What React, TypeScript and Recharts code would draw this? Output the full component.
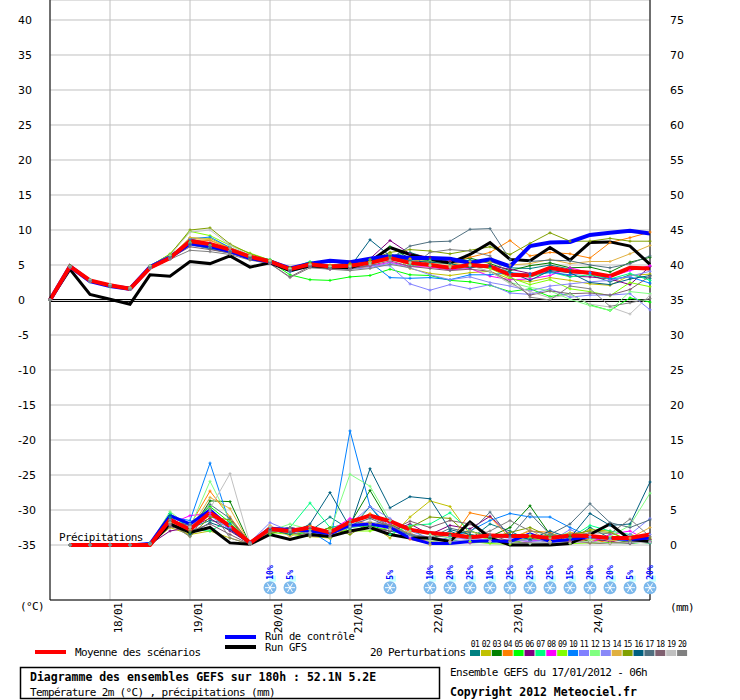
import React from "react";
import {
  LineChart,
  Line,
  XAxis,
  YAxis,
  CartesianGrid,
  ReferenceLine,
  ReferenceDot,
} from "recharts";

// time steps are 6h apart, starting 17/01 06h (index 0) up to +180h (index 30)
const DAY_TICKS = [3, 7, 11, 15, 19, 23, 27];
const DAY_LABELS = ["18/01", "19/01", "20/01", "21/01", "22/01", "23/01", "24/01"];
const TEMP_TICKS = [-35, -30, -25, -20, -15, -10, -5, 0, 5, 10, 15, 20, 25, 30, 35, 40];
const MM_TICKS = [0, 5, 10, 15, 20, 25, 30, 35, 40, 45, 50, 55, 60, 65, 70, 75];

// temperature 2m (°C)
const MEAN_T = [0, 4.8, 2.8, 2.1, 1.6, 4.6, 6.0, 8.4, 8.0, 7.2, 6.2, 5.5, 4.4, 5.1, 4.8, 4.9, 5.3, 6.0, 5.3, 5.0, 4.6, 5.0, 4.8, 3.6, 3.5, 4.6, 4.1, 3.9, 3.4, 4.6, 4.5];
const CTRL_T = [0, 4.8, 2.7, 2.0, 1.6, 4.7, 6.1, 8.1, 7.7, 7.0, 6.0, 5.5, 4.5, 5.2, 5.6, 5.4, 5.9, 6.3, 6.0, 6.0, 5.9, 5.3, 5.8, 4.8, 7.7, 8.2, 8.3, 9.3, 9.6, 9.9, 9.5];
const GFS_T = [0, 4.4, 0.8, 0.1, -0.6, 3.6, 3.4, 5.5, 5.2, 6.3, 4.7, 5.3, 4.2, 4.9, 4.7, 4.6, 5.5, 7.5, 6.5, 5.8, 5.3, 6.5, 8.2, 5.8, 5.6, 7.5, 5.7, 8.2, 8.3, 7.7, 5.1];

const PERT_T = [
  [0, 4.8, 2.9, 2.2, 1.7, 4.9, 6.2, 8.0, 7.3, 6.7, 6.0, 5.6, 4.6, 5.0, 4.7, 4.4, 5.3, 6.3, 6.8, 5.9, 5.2, 5.7, 5.5, 4.6, 4.5, 5.0, 4.4, 3.6, 2.6, 3.6, 3.1], // 01
  [0, 4.7, 2.7, 2.0, 1.5, 4.7, 6.1, 8.9, 8.8, 7.5, 6.4, 5.6, 4.2, 5.0, 4.5, 4.4, 4.8, 6.8, 4.5, 3.8, 3.5, 3.9, 4.1, 3.0, 2.6, 3.2, 2.8, 2.3, 2.1, 3.5, 3.7], // 02
  [0, 4.9, 2.8, 2.1, 1.6, 4.5, 6.3, 8.1, 7.6, 7.1, 5.9, 5.3, 4.5, 5.3, 4.6, 4.7, 5.6, 7.6, 5.9, 5.6, 5.4, 6.0, 5.2, 4.2, 4.9, 5.3, 4.6, 4.7, 4.0, 5.4, 6.1], // 03
  [0, 4.8, 2.8, 2.1, 1.8, 4.8, 6.0, 8.6, 8.5, 7.4, 6.3, 5.4, 4.3, 5.2, 5.0, 5.2, 5.5, 6.1, 5.9, 5.2, 5.5, 6.1, 6.8, 8.5, 6.3, 6.8, 6.6, 6.0, 8.2, 8.9, 9.7], // 04
  [0, 4.7, 2.6, 1.9, 1.5, 4.6, 6.4, 8.3, 7.9, 6.9, 5.8, 5.5, 3.6, 2.9, 2.8, 3.3, 3.5, 4.4, 3.6, 3.5, 2.8, 2.6, 2.1, 1.2, 1.6, 0.5, 0.9, -0.7, -1.5, 0.3, -0.3], // 05
  [0, 4.8, 2.8, 2.0, 1.6, 4.7, 6.0, 8.7, 8.1, 7.3, 6.2, 5.4, 4.4, 4.8, 4.9, 5.4, 5.9, 8.5, 6.6, 6.1, 5.5, 5.3, 4.9, 4.4, 3.8, 4.1, 3.4, 3.3, 3.0, 2.2, 4.8], // 06
  [0, 4.9, 2.9, 2.2, 1.7, 4.9, 6.5, 8.0, 7.4, 7.0, 6.2, 5.8, 4.5, 5.5, 4.8, 4.9, 5.8, 6.2, 5.0, 4.9, 4.3, 4.7, 4.6, 3.9, 3.3, 4.0, 3.3, 3.6, 3.0, 3.8, 2.8], // 07
  [0, 4.7, 2.7, 2.1, 1.6, 4.6, 6.1, 8.0, 7.7, 7.1, 5.9, 5.3, 4.3, 4.9, 4.4, 4.6, 4.8, 5.4, 4.8, 4.7, 4.3, 4.5, 3.4, 2.9, 3.0, 3.5, 4.6, 3.9, 3.3, 4.2, 4.9], // 08
  [0, 4.8, 2.8, 2.1, 1.6, 4.8, 6.6, 9.8, 9.2, 7.8, 6.7, 5.7, 4.6, 5.0, 4.6, 4.7, 5.2, 6.5, 5.6, 4.9, 4.8, 5.1, 4.5, 3.2, 2.2, 2.9, 1.6, 1.2, 0.6, 2.5, 1.9], // 09
  [0, 4.8, 2.9, 2.2, 1.6, 4.7, 6.2, 8.7, 9.0, 7.5, 6.0, 5.4, 4.0, 4.8, 4.5, 4.7, 5.4, 3.2, 3.1, 3.2, 2.9, 3.6, 3.6, 3.9, 3.7, 3.9, 3.6, 3.9, 3.0, 3.3, 2.4], // 10
  [0, 4.7, 2.6, 2.0, 1.5, 4.5, 5.9, 7.8, 7.4, 6.8, 5.9, 5.3, 4.3, 4.7, 4.6, 4.5, 4.9, 4.9, 2.3, 1.4, 2.2, 1.6, 2.2, 1.0, 0.8, 1.6, 0.4, 0.7, 0.7, 0.9, -1.4], // 11
  [0, 4.8, 2.8, 2.1, 1.7, 4.8, 6.3, 8.2, 7.8, 7.0, 6.4, 5.6, 4.4, 5.1, 4.9, 5.0, 5.4, 6.6, 5.3, 5.6, 5.1, 5.0, 4.0, 2.5, 1.8, 1.3, 0.1, -0.8, -1.5, 1.2, 0.9], // 12
  [0, 4.8, 2.7, 2.1, 1.6, 4.6, 6.0, 8.1, 7.5, 6.9, 6.0, 5.2, 4.1, 4.9, 4.4, 4.4, 4.6, 5.3, 4.6, 3.6, 2.9, 3.3, 2.5, 2.0, 1.3, 2.0, 2.3, 2.6, 2.8, 3.4, 4.1], // 13
  [0, 4.8, 2.8, 2.1, 1.6, 4.7, 6.1, 8.9, 8.6, 7.4, 6.3, 5.6, 4.4, 5.0, 4.8, 5.0, 5.5, 6.4, 5.8, 5.4, 5.1, 5.5, 5.4, 5.0, 5.2, 5.8, 5.2, 5.5, 5.5, 6.6, 7.8], // 14
  [0, 4.9, 2.9, 2.2, 1.7, 4.9, 6.5, 10.0, 10.3, 8.0, 6.6, 5.7, 4.6, 5.3, 4.9, 5.2, 5.7, 6.8, 7.2, 7.0, 6.6, 7.1, 7.6, 6.5, 8.1, 9.6, 8.4, 8.4, 8.8, 8.4, 8.4], // 15
  [0, 4.8, 2.8, 2.1, 1.6, 4.8, 6.2, 7.9, 7.4, 6.9, 6.0, 5.3, 4.3, 5.0, 4.6, 4.7, 8.6, 6.3, 5.6, 5.4, 5.2, 4.6, 4.8, 4.0, 2.8, 4.2, 3.9, 2.5, 2.2, 3.0, 3.5], // 16
  [0, 4.8, 2.8, 2.1, 1.6, 4.7, 6.1, 8.1, 7.7, 6.9, 6.0, 5.4, 4.1, 4.9, 4.5, 4.6, 5.0, 5.9, 7.7, 8.3, 8.4, 10.1, 10.2, 5.8, 5.5, 5.7, 5.6, 5.0, 4.6, 5.2, 6.3], // 17
  [0, 4.8, 2.7, 2.0, 1.6, 4.6, 6.0, 7.6, 7.2, 6.7, 5.8, 5.2, 3.3, 4.8, 4.4, 4.5, 4.9, 5.6, 4.8, 4.5, 4.2, 4.4, 4.1, 2.6, 0.7, 1.3, 0.9, 1.0, 0.7, 1.5, 3.4], // 18
  [0, 4.8, 2.9, 2.2, 1.7, 4.9, 6.4, 9.7, 10.0, 7.8, 6.4, 5.6, 4.5, 5.1, 4.8, 4.8, 5.1, 5.7, 5.4, 5.0, 4.7, 4.9, 4.1, 2.3, 1.2, 0.3, 0.8, -0.6, -1.0, -2.0, 0.7], // 19
  [0, 4.7, 2.7, 2.0, 1.5, 4.5, 5.8, 7.1, 6.9, 6.5, 5.7, 5.2, 3.2, 4.6, 4.4, 4.2, 4.5, 5.1, 4.6, 6.8, 7.2, 7.0, 6.3, 3.5, 0.4, 0.0, 2.0, 1.6, -0.9, -0.4, 0.2], // 20
];

// precipitations (mm), no value at the first step
const MEAN_P = [null, 0, 0, 0, 0, 0, 3.6, 2.2, 4.6, 2.7, 0.3, 2.3, 2.0, 2.5, 1.8, 3.3, 4.2, 3.4, 2.2, 1.7, 1.5, 1.1, 1.35, 1.3, 1.3, 1.0, 1.35, 1.3, 1.0, 1.0, 1.5];
const CTRL_P = [null, 0, 0, 0, 0, 0.2, 4.2, 3.0, 5.0, 2.5, 0.3, 2.4, 2.2, 2.0, 1.6, 2.8, 3.0, 2.5, 1.0, 0.2, 0.2, 0.5, 0.6, 0.5, 1.6, 0.5, 0.8, 1.2, 1.0, 0.8, 1.0];
const GFS_P = [null, 0, 0, 0, 0, 0, 3.0, 1.8, 2.5, 0.3, 0.1, 1.5, 0.8, 1.5, 1.2, 2.0, 2.5, 1.5, 1.0, 1.0, 0.5, 3.3, 1.0, 0.0, 0.0, 0.0, 0.2, 1.5, 3.0, 0.8, 0.5];

const PERT_P = [
  [null, 0, 0, 0, 0, 0.2, 4.5, 2.4, 3.5, 3.0, 0.2, 2.0, 2.5, 2.0, 4.0, 2.2, 5.5, 2.0, 1.5, 0.8, 2.0, 0.8, 3.0, 2.0, 0.6, 1.5, 0.5, 2.5, 1.0, 0.4, 0.5], // 01
  [null, 0, 0, 0, 0, 0.1, 2.5, 1.5, 2.0, 1.0, 0.1, 2.2, 1.8, 1.2, 1.0, 3.5, 3.0, 1.0, 4.0, 6.3, 5.5, 1.5, 0.8, 0.5, 1.0, 0.3, 1.0, 2.2, 2.0, 0.5, 0.6], // 02
  [null, 0, 0, 0, 0, 0.2, 3.8, 1.8, 6.3, 6.2, 0.1, 1.8, 2.2, 1.5, 2.5, 3.0, 7.8, 3.0, 1.5, 1.0, 1.5, 2.0, 1.2, 2.5, 5.6, 1.5, 1.2, 0.5, 0.8, 0.4, 0.3], // 03
  [null, 0, 0, 0, 0, 0.1, 3.5, 2.8, 7.7, 4.0, 0.3, 2.5, 2.0, 2.8, 1.5, 3.0, 4.5, 2.5, 0.8, 0.2, 0.5, 4.6, 4.0, 1.0, 2.0, 1.8, 0.5, 0.8, 0.3, 1.5, 0.8], // 04
  [null, 0, 0, 0, 0, 0.3, 4.0, 3.0, 5.5, 3.2, 0.1, 2.2, 1.5, 1.8, 1.0, 2.5, 2.8, 2.0, 2.5, 0.5, 0.8, 0.3, 0.4, 0.5, 0.2, 0.3, 0.5, 0.4, 0.3, 0.2, 0.5], // 05
  [null, 0, 0, 0, 0, 0.1, 2.0, 2.5, 3.8, 2.0, 0.2, 2.0, 2.5, 2.0, 1.2, 2.0, 2.5, 2.0, 3.0, 1.5, 2.8, 2.3, 4.1, 1.5, 0.8, 0.5, 0.3, 1.0, 0.5, 0.2, 0.8], // 06
  [null, 0, 0, 0, 0, 0.2, 4.5, 2.2, 2.0, 3.5, 0.1, 1.5, 2.5, 6.0, 2.5, 3.0, 2.5, 1.5, 2.8, 3.0, 4.6, 2.0, 1.0, 0.5, 0.8, 1.5, 1.0, 2.8, 2.0, 1.5, 0.6], // 07
  [null, 0, 0, 0, 0, 0.2, 3.0, 4.2, 4.5, 2.5, 0.1, 2.5, 2.3, 2.5, 2.0, 3.8, 3.0, 3.0, 1.0, 0.5, 0.5, 0.3, 0.5, 0.8, 0.5, 1.0, 0.5, 0.3, 1.5, 2.0, 0.5], // 08
  [null, 0, 0, 0, 0, 0.1, 3.2, 2.0, 5.0, 2.8, 0.2, 1.8, 1.5, 1.2, 2.2, 2.0, 2.0, 2.5, 1.5, 0.5, 0.3, 0.5, 0.2, 0.1, 1.0, 0.5, 0.2, 0.3, 0.2, 0.5, 0.3], // 09
  [null, 0, 0, 0, 0, 0.3, 4.0, 3.5, 11.7, 3.0, 0.3, 2.5, 1.8, 2.0, 0.2, 16.3, 5.5, 2.5, 1.5, 0.1, 1.2, 2.0, 3.5, 4.5, 4.0, 4.0, 2.5, 1.2, 1.0, 0.5, 0.3], // 10
  [null, 0, 0, 0, 0, 0.2, 2.8, 3.0, 4.2, 2.2, 0.4, 3.2, 2.0, 1.8, 1.5, 2.5, 3.0, 3.5, 2.0, 1.0, 0.5, 0.8, 1.2, 1.0, 0.8, 0.5, 2.2, 1.0, 0.8, 1.5, 3.8], // 11
  [null, 0, 0, 0, 0, 0.2, 4.8, 2.5, 9.1, 3.5, 0.2, 2.0, 3.0, 2.2, 2.0, 10.1, 8.4, 3.5, 2.0, 1.5, 1.0, 1.5, 0.8, 0.5, 1.5, 1.0, 1.8, 0.8, 1.2, 2.8, 7.4], // 12
  [null, 0, 0, 0, 0, 0.2, 3.6, 2.6, 4.8, 2.4, 0.2, 2.2, 2.0, 1.6, 1.4, 3.0, 5.5, 3.8, 1.6, 1.0, 0.8, 1.0, 0.6, 0.8, 0.5, 0.4, 1.6, 1.2, 0.8, 0.6, 1.5], // 13
  [null, 0, 0, 0, 0, 0.1, 3.0, 2.2, 6.8, 5.2, 0.1, 2.8, 1.2, 2.6, 1.0, 2.8, 3.3, 2.4, 1.8, 0.0, 0.6, 2.0, 1.0, 0.6, 2.2, 0.5, 1.8, 1.5, 0.6, 1.0, 2.5], // 14
  [null, 0, 0, 0, 0, 0.1, 3.3, 1.2, 4.0, 3.6, 0.2, 1.6, 2.4, 1.4, 2.5, 1.5, 3.2, 2.8, 2.5, 4.0, 3.8, 1.2, 1.0, 1.8, 2.5, 1.2, 1.5, 2.0, 1.8, 0.6, 1.0], // 15
  [null, 0, 0, 0, 0, 0.2, 4.2, 1.5, 3.2, 2.2, 0.1, 2.2, 1.5, 3.0, 7.5, 2.5, 10.9, 5.3, 6.9, 6.6, 2.2, 1.5, 1.0, 1.5, 0.8, 2.0, 1.0, 4.5, 2.8, 3.0, 9.0], // 16
  [null, 0, 0, 0, 0, 0.2, 3.4, 2.8, 5.8, 3.8, 0.3, 2.5, 2.0, 2.4, 1.8, 2.8, 3.8, 2.6, 1.5, 1.0, 2.4, 1.8, 4.7, 1.2, 4.5, 1.5, 3.0, 5.9, 3.2, 2.5, 3.6], // 17
  [null, 0, 0, 0, 0, 0.1, 2.6, 2.0, 3.0, 1.5, 0.1, 2.0, 1.8, 1.2, 1.5, 1.8, 2.5, 2.0, 3.4, 2.5, 3.5, 3.0, 1.5, 0.5, 0.3, 0.2, 0.6, 0.3, 0.2, 0.5, 0.4], // 18
  [null, 0, 0, 0, 0, 0.2, 3.2, 2.6, 5.2, 10.2, 0.2, 2.6, 2.2, 1.8, 2.0, 2.6, 3.4, 2.2, 1.2, 0.6, 0.4, 0.8, 0.5, 0.3, 0.2, 0.4, 0.3, 0.5, 0.2, 0.3, 0.4], // 19
  [null, 0, 0, 0, 0, 0.2, 3.0, 1.2, 5.2, 1.0, 0.1, 1.8, 2.5, 1.4, 1.2, 3.5, 4.0, 2.8, 1.5, 1.0, 1.4, 1.0, 2.0, 3.5, 2.0, 1.5, 1.0, 1.8, 1.6, 3.7, 1.2], // 20
];

const PERT_COLORS = [
  "#008080", "#c0c000", "#008000", "#ff8000", "#00ff00",
  "#800080", "#00ff80", "#ff00ff", "#80ff00", "#0080ff",
  "#8080ff", "#80ff80", "#8888f8", "#e0b040", "#80a000",
  "#006080", "#507080", "#806070", "#c0c0c0", "#808080",
];

// snow probability (%) at the given steps
const SNOW_STEPS = [11, 12, 17, 19, 20, 21, 22, 23, 24, 25, 26, 27, 28, 29, 30];
const SNOW_PCT = [10, 5, 5, 10, 20, 25, 10, 25, 25, 25, 15, 20, 20, 5, 20];
const SNOW_ROW = -41.1; // level (°C axis) where the snow icons sit

const MONO = '"DejaVu Sans Mono", "Liberation Mono", monospace';
const SANS = '"DejaVu Sans", Verdana, sans-serif';

const rows = MEAN_T.map((_, i) => {
  const row: Record<string, number | null> = {
    t: i,
    mT: MEAN_T[i],
    cT: CTRL_T[i],
    gT: GFS_T[i],
    mP: MEAN_P[i],
    cP: CTRL_P[i],
    gP: GFS_P[i],
  };
  PERT_T.forEach((s, k) => (row[`t${k}`] = s[i]));
  PERT_P.forEach((s, k) => (row[`p${k}`] = s[i]));
  return row;
});

const plusDot = (color: string) => (props: any) => {
  const { cx, cy, index, dataKey } = props;
  const key = `${dataKey}-${index}`;
  if (cx == null || cy == null) return <g key={key} />;
  return (
    <path
      key={key}
      d={`M${cx - 1.5},${cy}h3M${cx},${cy - 1.5}v3`}
      stroke={color}
      strokeWidth={1}
      fill="none"
    />
  );
};

const LeftTick = (props: any) => (
  <text x={18} y={props.y + 4} fontSize={11} fontFamily={SANS} fill="#000">
    {props.payload.value}
  </text>
);

const RightTick = (props: any) => (
  <text x={670} y={props.y + 4} fontSize={11} fontFamily={SANS} fill="#000">
    {props.payload.value}
  </text>
);

const DayTick = (props: any) => {
  const idx = DAY_TICKS.indexOf(props.payload.value);
  return (
    <text
      transform={`translate(${props.x + 12},603) rotate(-90)`}
      textAnchor="end"
      fontSize={11}
      letterSpacing={-0.6}
      fontFamily={MONO}
      fill="#000"
    >
      {DAY_LABELS[idx]}
    </text>
  );
};

// double black line for 0 °C
const ZeroLine = (props: any) => {
  const y = Math.round(props.y1);
  return (
    <g stroke="#000" strokeWidth={1} shapeRendering="crispEdges">
      <line x1={props.x1} x2={props.x2} y1={y - 0.5} y2={y - 0.5} />
      <line x1={props.x1} x2={props.x2} y1={y + 1.5} y2={y + 1.5} />
    </g>
  );
};

const SnowIcon = ({ cx, cy, pct }: { cx: number; cy: number; pct: number }) => (
  <g>
    <rect x={cx - 1} y={cy - 12} width={7} height={6} fill="#c8ffff" />
    <text
      transform={`translate(${cx + 3},${cy - 8}) rotate(-90)`}
      fontSize={8}
      fontWeight="bold"
      fontFamily={MONO}
      fill="#0000ff"
    >
      {pct}%
    </text>
    <circle cx={cx} cy={cy} r={6.5} fill="#7db9ec" />
    <g stroke="#ffffff" strokeWidth={1}>
      <line x1={cx - 5} y1={cy} x2={cx + 5} y2={cy} />
      <line x1={cx - 2.5} y1={cy - 4.3} x2={cx + 2.5} y2={cy + 4.3} />
      <line x1={cx - 2.5} y1={cy + 4.3} x2={cx + 2.5} y2={cy - 4.3} />
    </g>
  </g>
);

const Legend = () => (
  <svg
    width={740}
    height={700}
    style={{ position: "absolute", left: 0, top: 0, pointerEvents: "none" }}
  >
    <g fontFamily={MONO} fontSize={11} letterSpacing={-0.65} fill="#000">
      <text x={20} y={610}>(°C)</text>
      <text x={670} y={611}>(mm)</text>
      <text x={59} y={541}>Précipitations</text>

      <rect x={225} y={635} width={31} height={4} fill="#0000ff" />
      <text x={265} y={640} fontSize={10.5} letterSpacing={-0.35}>Run de contrôle</text>
      <rect x={225} y={645} width={31} height={4} fill="#000000" />
      <text x={265} y={651} fontSize={10.5} letterSpacing={-0.35}>Run GFS</text>
      <rect x={35} y={650} width={31} height={4} fill="#ff0000" />
      <text x={75} y={656}>Moyenne des scénarios</text>

      <text x={370} y={656}>20 Perturbations</text>
      {PERT_COLORS.map((c, k) => (
        <g key={c + k}>
          <rect x={470 + k * 10.9} y={650} width={10} height={6} fill={c} />
          <text
            x={475 + k * 10.9}
            y={647}
            fontSize={8}
            letterSpacing={-0.6}
            textAnchor="middle"
          >
            {String(k + 1).padStart(2, "0")}
          </text>
        </g>
      ))}

      <rect x={20.5} y={667.5} width={419} height={31} fill="none" stroke="#000" strokeWidth={1.5} />
      <text x={30} y={681} fontWeight="bold" fontSize={11.5} letterSpacing={0}>
        Diagramme des ensembles GEFS sur 180h : 52.1N 5.2E
      </text>
      <text x={30} y={696}>Température 2m (°C) , précipitations (mm)</text>

      <text x={450} y={676}>Ensemble GEFS du 17/01/2012 - 06h</text>
      <text x={450} y={696} fontWeight="bold" fontSize={11.5} letterSpacing={0}>
        Copyright 2012 Meteociel.fr
      </text>
    </g>
  </svg>
);

export default function App() {
  return (
    <div
      style={{
        position: "absolute",
        left: 0,
        top: 0,
        width: 740,
        height: 700,
        background: "#fff",
      }}
    >
      <LineChart
        width={740}
        height={700}
        data={rows}
        margin={{ top: 0, right: 0, bottom: 0, left: 0 }}
      >
        <CartesianGrid yAxisId="t" stroke="#c0c0c0" strokeWidth={1} />
        <XAxis
          dataKey="t"
          type="number"
          domain={[0, 30]}
          ticks={DAY_TICKS}
          height={100}
          axisLine={{ stroke: "#000" }}
          tickLine={false}
          tick={<DayTick />}
          interval={0}
        />
        <YAxis
          yAxisId="t"
          domain={[-42.857, 42.857]}
          ticks={TEMP_TICKS}
          width={50}
          axisLine={{ stroke: "#000" }}
          tickLine={false}
          tick={<LeftTick />}
          interval={0}
          allowDataOverflow
        />
        <YAxis
          yAxisId="mm"
          orientation="right"
          domain={[-7.857, 77.857]}
          ticks={MM_TICKS}
          width={90}
          axisLine={{ stroke: "#000" }}
          tickLine={false}
          tick={<RightTick />}
          interval={0}
          allowDataOverflow
        />
        <ReferenceLine yAxisId="t" y={0} shape={(p: any) => <ZeroLine {...p} />} />

        {PERT_COLORS.map((c, k) => (
          <Line
            key={`t${k}`}
            yAxisId="t"
            dataKey={`t${k}`}
            stroke={c}
            strokeWidth={1}
            dot={plusDot(c)}
            activeDot={false}
            isAnimationActive={false}
          />
        ))}
        {PERT_COLORS.map((c, k) => (
          <Line
            key={`p${k}`}
            yAxisId="mm"
            dataKey={`p${k}`}
            stroke={c}
            strokeWidth={1}
            dot={plusDot(c)}
            activeDot={false}
            isAnimationActive={false}
          />
        ))}

        <Line yAxisId="t" dataKey="gT" stroke="#000" strokeWidth={3} dot={false} isAnimationActive={false} />
        <Line yAxisId="t" dataKey="cT" stroke="#0000ff" strokeWidth={4} dot={false} isAnimationActive={false} />
        <Line yAxisId="t" dataKey="mT" stroke="#ff0000" strokeWidth={4} dot={false} isAnimationActive={false} />
        <Line yAxisId="mm" dataKey="gP" stroke="#000" strokeWidth={3} dot={false} isAnimationActive={false} />
        <Line yAxisId="mm" dataKey="cP" stroke="#0000ff" strokeWidth={3} dot={false} isAnimationActive={false} />
        <Line yAxisId="mm" dataKey="mP" stroke="#ff0000" strokeWidth={4} dot={false} isAnimationActive={false} />

        {SNOW_STEPS.map((s, k) => (
          <ReferenceDot
            key={`snow${s}`}
            yAxisId="t"
            x={s}
            y={SNOW_ROW}
            r={7}
            shape={(p: any) => <SnowIcon cx={p.cx} cy={p.cy} pct={SNOW_PCT[k]} />}
          />
        ))}
      </LineChart>
      <Legend />
    </div>
  );
}
